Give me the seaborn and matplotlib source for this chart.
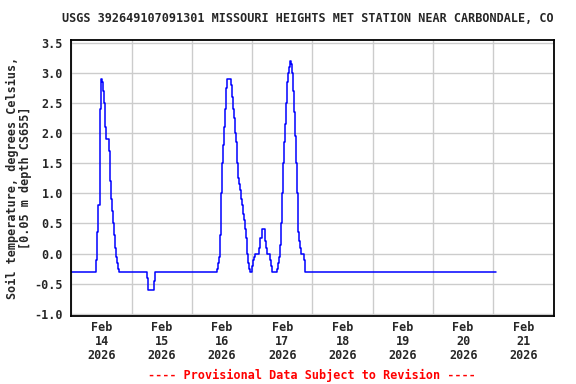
import pandas as pd
import numpy as np
import matplotlib
matplotlib.use('Agg')
import matplotlib.pyplot as plt
import seaborn as sns

# hours after 2026-02-14 00:00 where the reading changes, and the new reading
hours = [0.0, 9.9, 10.3, 10.7, 11.2, 11.5, 11.9, 12.1, 12.4, 12.8, 13.2, 13.9,
         15.1, 15.5, 15.9, 16.3, 16.7, 17.0, 17.4, 17.8, 18.2, 18.6, 19.0,
         30.2, 30.6, 33.0, 33.4,
         58.1, 58.5, 58.9, 59.3, 59.7, 60.1, 60.5, 60.9, 61.3, 61.7, 62.1,
         63.4, 63.8, 64.2, 64.6, 65.0, 65.4, 65.8, 66.2, 66.6, 67.0, 67.4,
         67.8, 68.2, 68.6, 69.0, 69.4, 69.8, 70.2, 70.8, 71.2,
         72.0, 72.4, 72.8, 73.2, 74.8, 75.2, 75.8, 77.2, 77.6, 78.0,
         79.2, 79.6, 80.0,
         82.0, 82.4, 82.8, 83.2, 83.6, 84.0, 84.4, 84.8, 85.2, 85.6, 86.0,
         86.4, 86.8, 87.2, 87.4, 87.7, 88.1, 88.5, 88.9, 89.3, 89.7, 90.1,
         90.5, 90.9, 91.3, 92.5, 92.9, 169.25]
temps = [-0.3, -0.1, 0.35, 0.8, 1.5, 2.4, 2.9, 2.85, 2.7, 2.5, 2.1, 1.9,
         1.7, 1.2, 0.9, 0.7, 0.5, 0.3, 0.1, -0.05, -0.15, -0.25, -0.3,
         -0.4, -0.6, -0.45, -0.3,
         -0.25, -0.15, -0.05, 0.3, 1.0, 1.5, 1.8, 2.1, 2.4, 2.75, 2.9,
         2.8, 2.6, 2.4, 2.25, 2.0, 1.85, 1.5, 1.25, 1.15, 1.05, 0.9,
         0.8, 0.65, 0.55, 0.4, 0.25, 0.0, -0.15, -0.25, -0.3,
         -0.2, -0.1, -0.05, 0.0, 0.1, 0.25, 0.4, 0.2, 0.1, 0.0,
         -0.1, -0.2, -0.3,
         -0.25, -0.15, -0.05, 0.15, 0.5, 1.0, 1.5, 1.85, 2.15, 2.5, 2.85,
         3.0, 3.1, 3.2, 3.15, 3.0, 2.7, 2.35, 1.95, 1.5, 1.0, 0.35,
         0.2, 0.1, 0.0, -0.1, -0.3, -0.3]

y_ticks = [-1.0, -0.5, 0.0, 0.5, 1.0, 1.5, 2.0, 2.5, 3.0, 3.5]
days = pd.date_range('2026-02-14', periods=8, freq='D')
day_labels = ['Feb\n%d\n%d' % (d.day, d.year) for d in days]

start = pd.Timestamp('2026-02-14')
df = pd.DataFrame({'time': start + pd.to_timedelta(hours, unit='h'), 'temp': temps})

sns.set_style('white')
plt.rcParams['font.family'] = ['DejaVu Sans Mono']
plt.rcParams['font.weight'] = 'bold'
fs = 8.5

fig = plt.figure(figsize=(5.76, 3.84), dpi=100)
ax = fig.add_axes([0.124, 0.178, 0.837, 0.719])
sns.lineplot(data=df, x='time', y='temp', ax=ax, estimator=None,
             drawstyle='steps-post', color='#0000ff', linewidth=1.1)

ax.set_xlim(start, start + pd.Timedelta(days=8))
ax.set_ylim(-1.03, 3.55)

# gridlines at midnight, labels at noon
ax.set_xticks(list(days) + [start + pd.Timedelta(days=8)])
ax.set_xticklabels([])
ax.set_xticks(days + pd.Timedelta(hours=12), minor=True)
ax.set_xticklabels(day_labels, minor=True, fontsize=fs, fontweight='bold', linespacing=1.1)
ax.set_yticks(y_ticks)
ax.set_yticklabels(['%.1f' % v for v in y_ticks], fontsize=fs, fontweight='bold')
ax.tick_params(which='both', length=0)
ax.tick_params(axis='x', which='minor', pad=4)
ax.tick_params(axis='y', pad=6)
ax.grid(True, which='major', color='#cccccc', linewidth=1)
for s in ax.spines.values():
    s.set_color('black')
    s.set_linewidth(1.3)

ax.set_xlabel('')
ax.set_ylabel('Soil temperature, degrees Celsius,\n[0.05 m depth CS655]',
              fontsize=fs, fontweight='bold', linespacing=1.0, labelpad=2)

fig.text(308 / 576, 1 - 19 / 384,
         'USGS 392649107091301 MISSOURI HEIGHTS MET STATION NEAR CARBONDALE, CO',
         ha='center', va='center', fontsize=fs, fontweight='bold')
fig.text(312 / 576, 1 - 375 / 384, '---- Provisional Data Subject to Revision ----',
         ha='center', va='center', fontsize=fs, fontweight='bold', color='#ff0000')

fig.savefig('out.png', dpi=100)
